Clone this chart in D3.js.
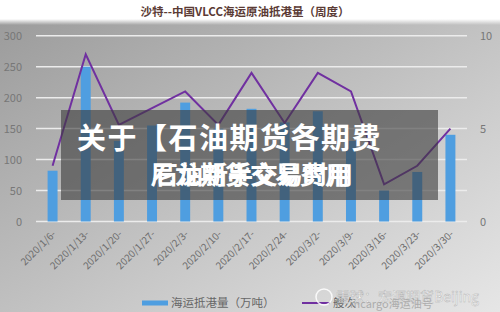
<!DOCTYPE html>
<html>
<head>
<meta charset="utf-8">
<script src="https://cdn.jsdelivr.net/npm/d3@7"></script>
<style>
  body { margin: 0; background: #fff; }
  svg text { font-family: "Noto Sans CJK SC", "Noto Sans", sans-serif; }
</style>
</head>
<body>
<div id="chart"></div>
<script>
// chart data
var weeks = ["2020/1/6-", "2020/1/13-", "2020/1/20-", "2020/1/27-", "2020/2/3-", "2020/2/10-",
    "2020/2/17-", "2020/2/24-", "2020/3/2-", "2020/3/9-", "2020/3/16-", "2020/3/23-", "2020/3/30-"];
var arrivals = [82, 250, 130, 155, 192, 150, 182, 160, 178, 130, 50, 80, 140];   // 万吨
var voyages = [3.0, 9.0, 5.2, 6.1, 7.0, 5.2, 8.0, 5.3, 8.0, 7.0, 2.0, 3.0, 5.0];  // 艘次
var leftTicks = [0, 50, 100, 150, 200, 250, 300];
var rightTicks = [0, 5, 10];

var svgWidth = 500, svgHeight = 312;
var plot = { left: 36, right: 467, top: 35.7, bottom: 221.5 };

var svg = d3.select("#chart").append("svg")
    .attr("width", svgWidth)
    .attr("height", svgHeight);

// background gradient
var defs = svg.append("defs");
var bg = defs.append("linearGradient").attr("id", "bg")
    .attr("x1", "0").attr("y1", "0").attr("x2", "1").attr("y2", "1");
bg.append("stop").attr("offset", "0%").attr("stop-color", "#999");
bg.append("stop").attr("offset", "55%").attr("stop-color", "#c4c4c4");
bg.append("stop").attr("offset", "100%").attr("stop-color", "#e6e6e6");

var topFade = defs.append("linearGradient").attr("id", "topFade")
    .attr("x1", "0").attr("y1", "0").attr("x2", "0").attr("y2", "1");
topFade.append("stop").attr("offset", "0%").attr("stop-color", "#fff").attr("stop-opacity", 1);
topFade.append("stop").attr("offset", "100%").attr("stop-color", "#fff").attr("stop-opacity", 0);

svg.append("rect").attr("width", svgWidth).attr("height", svgHeight).attr("fill", "url(#bg)");
svg.append("rect").attr("width", svgWidth).attr("height", 19).attr("fill", "#fff");
svg.append("rect").attr("y", 19).attr("width", svgWidth).attr("height", 6).attr("fill", "url(#topFade)");

// title
svg.append("text")
    .attr("x", 245).attr("y", 16)
    .attr("text-anchor", "middle")
    .attr("font-size", 11.5)
    .attr("font-weight", "bold")
    .attr("fill", "#5b3b35")
    .text("沙特--中国VLCC海运原油抵港量（周度）");

// scales
var xScale = d3.scaleBand()
    .domain(weeks)
    .range([plot.left, plot.right])
    .paddingInner(0.7)
    .paddingOuter(0.35);

var yLeft = d3.scaleLinear().domain([0, 300]).range([plot.bottom, plot.top]);
var yRight = d3.scaleLinear().domain([0, 10]).range([plot.bottom, plot.top]);

// gridlines
svg.append("g").selectAll("line")
    .data(leftTicks)
    .enter()
    .append("line")
    .attr("x1", plot.left).attr("x2", plot.right)
    .attr("y1", d => yLeft(d)).attr("y2", d => yLeft(d))
    .attr("stroke", "#ececec")
    .attr("stroke-width", 1.5);

// left axis
var leftAxis = d3.axisLeft(yLeft).tickValues(leftTicks).tickSize(0).tickPadding(0);
var gLeft = svg.append("g")
    .attr("transform", "translate(22,0)")
    .call(leftAxis);
gLeft.select(".domain").remove();
gLeft.selectAll("text").attr("font-size", 11).attr("fill", "#777").attr("dy", "0.35em");

// right axis
var rightAxis = d3.axisRight(yRight).tickValues(rightTicks).tickSize(0).tickPadding(0);
var gRight = svg.append("g")
    .attr("transform", "translate(480,0)")
    .call(rightAxis);
gRight.select(".domain").remove();
gRight.selectAll("text").attr("font-size", 11).attr("fill", "#777").attr("dy", "0.35em");

// x axis labels
var bottomAxis = d3.axisBottom(xScale).tickSize(0).tickPadding(0);
var gBottom = svg.append("g")
    .attr("transform", `translate(0, ${plot.bottom})`)
    .call(bottomAxis);
gBottom.select(".domain").remove();
gBottom.selectAll("text")
    .attr("font-size", 10)
    .attr("fill", "#6e6e6e")
    .attr("text-anchor", "end")
    .attr("dy", 0)
    .attr("transform", "translate(4,13) rotate(-45)");

// bars
svg.append("g").selectAll("rect")
    .data(arrivals)
    .enter()
    .append("rect")
    .attr("x", (d, i) => xScale(weeks[i]))
    .attr("y", d => yLeft(d))
    .attr("width", xScale.bandwidth())
    .attr("height", d => plot.bottom - yLeft(d))
    .attr("fill", "#4f9ee0");

// line
var line = d3.line()
    .x((d, i) => xScale(weeks[i]) + xScale.bandwidth() / 2)
    .y(d => yRight(d));

svg.append("path")
    .datum(voyages)
    .attr("d", line)
    .attr("fill", "none")
    .attr("stroke", "#7030a0")
    .attr("stroke-width", 2)
    .attr("stroke-linejoin", "miter");

// legend
svg.append("rect").attr("x", 142).attr("y", 300.5).attr("width", 26).attr("height", 5).attr("fill", "#4f9ee0");
svg.append("text").attr("x", 171).attr("y", 307).attr("font-size", 11.5).attr("fill", "#666")
    .text("海运抵港量（万吨）");
svg.append("line").attr("x1", 302).attr("x2", 330).attr("y1", 303).attr("y2", 303)
    .attr("stroke", "#7030a0").attr("stroke-width", 2);
svg.append("text").attr("x", 333).attr("y", 307).attr("font-size", 11.5).attr("fill", "#666")
    .text("艘次");

// watermark
svg.append("circle").attr("cx", 324).attr("cy", 297).attr("r", 8)
    .attr("fill", "none").attr("stroke", "#fff").attr("stroke-width", 1.5).attr("opacity", 0.85);
svg.append("text").attr("x", 336).attr("y", 302).attr("font-size", 14)
    .attr("fill", "#fff").attr("stroke", "#aaa").attr("stroke-width", 0.4).attr("opacity", 0.85)
    .text("雪球：宏源期货Beijing");
svg.append("text").attr("x", 350).attr("y", 308).attr("font-size", 11)
    .attr("fill", "#999").attr("opacity", 0.7)
    .text("mcargo海运油号");

// overlay banner
svg.append("rect")
    .attr("x", 61).attr("y", 110)
    .attr("width", 377).attr("height", 90)
    .attr("fill", "#3a3a3a").attr("opacity", 0.6);

svg.append("text").attr("x", 77).attr("y", 149)
    .attr("font-size", 29).attr("font-weight", "bold").attr("fill", "#fff")
    .attr("letter-spacing", 1.5)
    .text("关于【石油期货各期费");
svg.append("text").attr("x", 150).attr("y", 184)
    .attr("font-size", 25).attr("font-weight", "bold").attr("fill", "#fff")
    .text("尼龙期货交易费用");
svg.append("text").attr("x", 153).attr("y", 184)
    .attr("font-size", 25).attr("font-weight", "bold").attr("fill", "#fff")
    .text("石油新手交易时用");
</script>
</body>
</html>
